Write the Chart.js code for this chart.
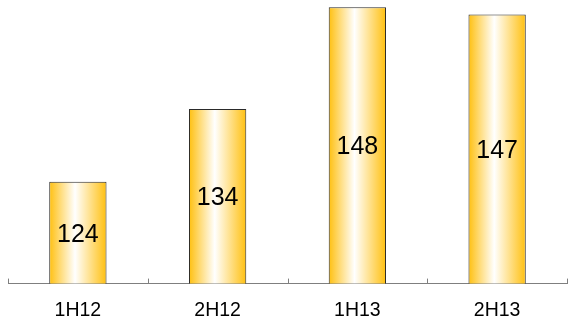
<!DOCTYPE html>
<html>
<head>
<meta charset="utf-8">
<script src="https://cdn.jsdelivr.net/npm/chart.js@4"></script>
<style>
html,body{margin:0;padding:0;background:#fff;}
#wrap{width:573px;height:323px;}
</style>
</head>
<body>
<div id="wrap"><canvas id="c" width="573" height="323"></canvas></div>
<script>
const categories = ["1H12", "2H12", "1H13", "2H13"];
const values = [124, 134, 148, 147];
const yMin = 110;
const yMax = 149;

const gradientPlugin = {
  id: 'grad',
  beforeDatasetsDraw(chart) {
    const ctx = chart.ctx;
    const meta = chart.getDatasetMeta(0);
    meta.data.forEach(el => {
      const l = el.x - el.width / 2, r = el.x + el.width / 2;
      const g = ctx.createLinearGradient(l, 0, r, 0);
      g.addColorStop(0, '#FFC010');
      g.addColorStop(0.45, '#FFFFFF');
      g.addColorStop(1, '#FFC010');
      el.options = Object.assign({}, el.options, {backgroundColor: g});
    });
  },
  afterDraw(chart) {
    const s = chart.scales.x;
    const ys = chart.scales.y;
    const ctx = chart.ctx;
    const n = categories.length;
    ctx.save();
    ctx.strokeStyle = '#7f7f7f';
    ctx.lineWidth = 1;
    ctx.beginPath();
    for (let i = 0; i <= n; i++) {
      const x = Math.round(s.left + i * s.width / n) + 0.5;
      ctx.moveTo(x, s.top - 5);
      ctx.lineTo(x, s.top);
    }
    ctx.stroke();
    ctx.restore();

    ctx.save();
    ctx.fillStyle = '#000000';
    ctx.font = '25px "Liberation Sans", Arial, sans-serif';
    ctx.textAlign = 'center';
    ctx.textBaseline = 'middle';
    const base = ys.getPixelForValue(yMin);
    for (let i = 0; i < values.length; i++) {
      const x = s.getPixelForValue(i);
      const top = ys.getPixelForValue(values[i]);
      ctx.fillText(String(values[i]), x, (top + base) / 2 + 2);
    }
    ctx.restore();
  }
};

new Chart(document.getElementById('c'), {
  type: 'bar',
  data: {
    labels: categories,
    datasets: [{
      data: values,
      backgroundColor: '#FFC010',
      borderColor: '#2a2a2a',
      borderWidth: 1,
      borderSkipped: false,
      barPercentage: 0.41,
      categoryPercentage: 1
    }]
  },
  options: {
    responsive: false,
    animation: false,
    layout: {padding: {left: 8, right: 6, top: 0, bottom: -14}},
    plugins: {legend: {display: false}, tooltip: {enabled: false}},
    scales: {
      x: {
        grid: {display: true, drawOnChartArea: false, drawTicks: false, color: 'rgba(0,0,0,0)'},
        border: {display: true, color: '#7f7f7f', width: 1},
        ticks: {color: '#000', padding: 15, font: {family: '"Liberation Sans", Arial, sans-serif', size: 19.5}}
      },
      y: {display: false, min: yMin, max: yMax}
    }
  },
  plugins: [gradientPlugin]
});
</script>
</body>
</html>
